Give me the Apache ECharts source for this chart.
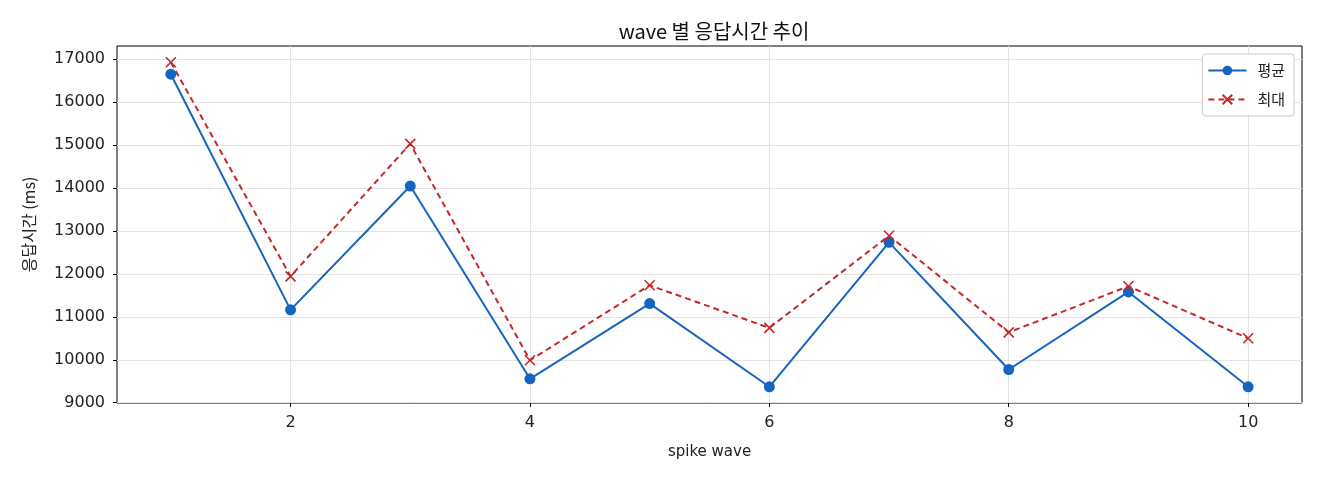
<!DOCTYPE html>
<html><head><meta charset="utf-8">
<script src="https://cdn.jsdelivr.net/npm/echarts@6/dist/echarts.min.js"></script>
<style>html,body{margin:0;padding:0;background:#fff}#c{width:1320px;height:480px}</style>
</head><body><div id="c"></div>
<script>
const waves = [1, 2, 3, 4, 5, 6, 7, 8, 9, 10];
const avgMs = [16651, 11163, 14047, 9558, 11309, 9372, 12735, 9774, 11581, 9372];
const maxMs = [16930, 11944, 15030, 9990, 11735, 10744, 12890, 10640, 11712, 10502];
const xTicks = [2, 4, 6, 8, 10];
const yTicks = [9000, 10000, 11000, 12000, 13000, 14000, 15000, 16000, 17000];

const font = "'DejaVu Sans', 'Noto Sans CJK KR', sans-serif";
const kfont = "'Noto Sans CJK KR', 'DejaVu Sans', sans-serif";
const chart = echarts.init(document.getElementById('c'));
chart.setOption({
  animation: false,
  backgroundColor: '#fff',
  title: { text: 'wave 별 응답시간 추이', left: 709, top: 16, textAlign: 'center',
    textStyle: { fontFamily: kfont, fontSize: 20, fontWeight: 'normal', color: '#111' } },
  grid: { left: 117, right: 18, top: 46, bottom: 77, show: true, borderColor: '#000', borderWidth: 1 },
  legend: {
    right: 26, top: 54, orient: 'vertical', itemGap: 14, itemWidth: 38, itemHeight: 12,
    backgroundColor: '#fff', borderColor: '#ccc', borderWidth: 1, borderRadius: 3, padding: [9, 9, 9, 5],
    textStyle: { fontFamily: kfont, fontSize: 15, color: '#222', padding: [0, 0, 0, 6] },
    data: ['평균', '최대']
  },
  xAxis: {
    type: 'value', min: 0.55, max: 10.45, name: 'spike wave', nameLocation: 'middle', nameGap: 42,
    nameTextStyle: { fontFamily: font, fontSize: 15, color: '#222' },
    axisLine: { show: false },
    axisTick: { show: true, length: 4, customValues: xTicks, lineStyle: { color: '#000' } },
    axisLabel: { customValues: xTicks, fontFamily: font, fontSize: 16, color: '#222', margin: 12,
      formatter: v => String(v) },
    splitLine: { show: true, lineStyle: { color: '#e3e3e3', width: 1 } }
  },
  yAxis: {
    type: 'value', min: 8994, max: 17308, name: '응답시간 (ms)', nameLocation: 'middle', nameGap: 80,
    nameTextStyle: { fontFamily: kfont, fontSize: 16, color: '#222' },
    axisLine: { show: false },
    axisTick: { show: true, length: 4, customValues: yTicks, lineStyle: { color: '#000' } },
    axisLabel: { customValues: yTicks, fontFamily: font, fontSize: 16, color: '#222', margin: 12,
      formatter: v => String(v) },
    splitLine: { show: true, lineStyle: { color: '#e3e3e3', width: 1 } }
  },
  series: [
    { name: '평균', type: 'line', data: waves.map((w, i) => [w, avgMs[i]]),
      symbol: 'circle', symbolSize: 11, color: '#1565c0',
      lineStyle: { width: 2, color: '#1565c0' }, itemStyle: { color: '#1565c0' } },
    { name: '최대', type: 'line', data: waves.map((w, i) => [w, maxMs[i]]),
      symbol: 'path://M0,0L10,10M10,0L0,10', symbolSize: 10, color: '#c62828',
      lineStyle: { width: 2, type: [6, 4], color: '#c62828' },
      itemStyle: { color: 'none', borderColor: '#c62828', borderWidth: 1.6 } }
  ]
});
</script></body></html>
